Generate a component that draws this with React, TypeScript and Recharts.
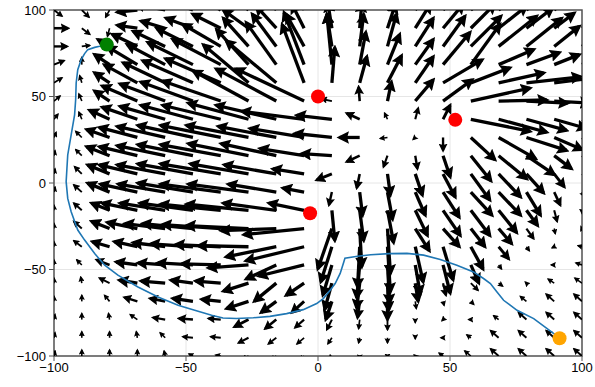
import React from 'react';
import { ComposedChart, Line, Scatter, XAxis, YAxis, CartesianGrid, ReferenceArea } from 'recharts';

// quiver grid (20 x 20 points, tails of the arrows)
const GRID_X = [-100, -89.47, -78.95, -68.42, -57.89, -47.37, -36.84, -26.32, -15.79, -5.26, 5.26, 15.79, 26.32, 36.84, 47.37, 57.89, 68.42, 78.95, 89.47, 100];
const GRID_Y = [100, 89.47, 78.95, 68.42, 57.89, 47.37, 36.84, 26.32, 15.79, 5.26, -5.26, -15.79, -26.32, -36.84, -47.37, -57.89, -68.42, -78.95, -89.47, -100];

// arrow x-components, one row per GRID_Y value
const ARROW_U = [
  [3, 2.7, -1.5, -7.6, -11.4, -12.1, -11.4, -9.5, -6.8, -3.8, -1.1, 1.1, 3, 5.3, 6.8, 7.6, 7.6, 6.8, 5.7, 5.3],
  [5.3, 3, -0.8, -7.6, -9.1, -10.2, -10.6, -9.5, -7.6, -4.6, -1.5, 0.8, 3, 5.7, 7.6, 9.1, 10.6, 9.9, 7.6, 6.1],
  [4.9, 3, -4.6, -9.5, -12.1, -13.7, -14.4, -9.5, -9.1, -6.8, -1.9, 1.5, 3.4, 6.8, 8.3, 11.4, 14.4, 13.3, 9.5, 6.8],
  [3.8, 0, -5.7, -11.4, -14.4, -17.1, -18.2, -12.1, -11.4, -7.6, -1.9, 2.3, 4.6, 6.8, 10.2, 11, 13.3, 12.5, 9.5, 7.6],
  [3, -0.8, -5.7, -12.5, -15.9, -19, -20.9, -17.1, -19, -8.3, 1.1, 2.7, 5.3, 6.8, 14.8, 14.8, 17.1, 20.5, 15.2, 11.4],
  [2.3, -1.1, -5.7, -13.3, -17.1, -19.7, -22, -20.9, -22.8, -25.8, -3.8, -0.4, 1.5, 6.8, 11, 22.4, 18.2, 15.6, 13.3, 11.4],
  [1.5, -1.1, -7.6, -13.3, -17.1, -19.7, -22, -22.8, -22.8, -23.5, -13.3, -4.9, -1.1, 1.1, 2.7, 22.4, 18.2, 15.2, 12.1, 11.4],
  [0.8, -2.3, -8.7, -14.4, -18.2, -20.9, -22.8, -23.5, -22, -20.5, -14, -7.6, -2.7, -0.8, 0, 9.1, 14, 15.2, 10.6, 7.6],
  [0.4, -2.3, -8.7, -14.4, -18.2, -20.9, -22.8, -22.8, -20.9, -16.7, -11.4, -4.9, -1.5, 0.8, 2.7, 7.6, 10.6, 10.6, 6.5, 3.8],
  [0.4, -2.7, -8.3, -14.4, -18.2, -20.9, -22.8, -22, -19.7, -11.8, -5.7, -1.1, 1.1, 2.7, 4.6, 7.2, 8.3, 6.5, 3.8, 1.9],
  [0.4, -3, -8.3, -14, -17.8, -20.9, -22.8, -22.8, -18.2, -8, -1.1, 1.1, 1.9, 3.8, 6.1, 8, 8.3, 5.3, 2.3, 0.8],
  [0, -3, -6.8, -13.3, -17.1, -20.1, -22.8, -23.5, -20.1, -13.3, 1.1, 1.5, 2.3, 4.6, 6.5, 7.2, 6.8, 4.2, 1.1, 0],
  [0, -3, -6.8, -11.4, -15.2, -19, -22, -23.5, -20.9, -22.8, -5.3, 0.8, 1.1, 5.3, 6.1, 5.3, 4.9, 2.7, 0.4, -0.4],
  [0, -3, -6.5, -8.7, -12.1, -15.9, -17.1, -19, -19, -22, -4.2, -0.8, 1.1, 3, 3.8, 4.6, 3.8, 1.1, -0.8, -1.5],
  [0, -1.9, -4.9, -8, -10.2, -13.3, -14.8, -15.2, -11.4, -17.1, -3.4, -1.1, 0.8, 1.9, 2.7, 3, 1.1, 0, -1.1, -2.3],
  [0, -0.4, -3.8, -6.8, -9.1, -8.3, -9.5, -9.5, -8.3, -6.8, -2.7, -1.1, 0.4, 1.1, 1.1, 2.7, 1.5, -0.4, -2.3, -2.7],
  [0, 0, -1.9, -4.9, -5.7, -7.6, -7.2, -8.3, -5.7, -4.6, -2.3, -0.8, 0, 0.4, 0.4, 1.1, 0, -2.3, -3, -3],
  [0.4, 0, -0.4, -2.7, -4.6, -5.3, -4.6, -5.3, -4.2, -3.4, -1.9, -0.4, 0, 0, -0.4, -0.8, -1.9, -3, -3, -3],
  [0.4, 0, 0, -0.4, -1.9, -3.8, -3.8, -3.8, -3, -2.7, -1.5, -0.4, 0, 0, -0.8, -1.5, -3, -3, -3, -3],
  [0.4, 0, 0, 0, -0.4, -1.5, -1.9, -2.3, -1.9, -1.5, -1.1, 0, 0, -0.4, -1.5, -2.3, -3, -3, -3, -3],
];

// arrow y-components, one row per GRID_Y value
const ARROW_V = [
  [-3.5, -4.1, -4.1, -1.2, 3.5, 7, 10.4, 12.8, 16.2, 17.4, 17.4, 16.2, 14.5, 12.8, 11.6, 10.4, 9.3, 8.1, 7, 4.6],
  [0, -3.5, -4.6, 1.7, 4.1, 5.8, 8.1, 10.4, 12.8, 13.9, 14.5, 14.5, 13.9, 13.9, 13.9, 13.9, 12.8, 11.6, 8.7, 5.8],
  [0, 0.6, 4.1, 7, 8.7, 10.4, 12.8, 16.2, 18.6, 18.6, 18.6, 18.6, 18.6, 16.2, 17.4, 17.4, 17.4, 16.2, 11.6, 7],
  [2.3, 4.1, 5.8, 10.4, 11.6, 12.8, 14.5, 20.3, 24.3, 30.1, 29, 18.6, 17.4, 14.5, 18.6, 23.2, 8.7, 7, 5.8, 4.6],
  [2.9, 4.1, 5.8, 10.4, 11.6, 12.8, 13.9, 22, 24.3, 33.6, 20.3, 15.1, 15.7, 15.1, 13.3, 8.7, 5.8, 3.5, 2.9, 2.3],
  [2.9, 4.1, 5.8, 8.7, 9.9, 11, 11.6, 17.4, 18.6, 18.6, 1.2, 8.1, 11, 12.2, 12.2, 7.5, 0.6, -1.2, -1.2, -1.2],
  [2.9, 4.1, 5.2, 7, 7.5, 8.1, 8.1, 9.3, 8.1, 4.6, 2.3, 3.5, 3.5, 6.4, 8.1, -7, -7.5, -6.4, -5.2, -4.6],
  [2.9, 3.5, 4.6, 5.8, 6.4, 7, 7, 7, 6.4, 5.2, 2.3, 0, -0.6, -1.2, -7.5, -12.8, -12.2, -7.5, -7, -5.8],
  [2.9, 3.5, 5.2, 5.2, 5.8, 6.4, 6.4, 7, 7, 4.1, 1.2, -3.5, -6.4, -7.5, -12.2, -14.5, -13.3, -11, -7.5, -4.6],
  [2.9, 4.1, 5.2, 5.2, 5.2, 5.8, 5.8, 5.8, 5.2, 2.9, -3.5, -8.1, -12.2, -12.2, -13.3, -15.1, -13.3, -11, -7.5, -3.5],
  [2.9, 4.1, 5.2, 4.6, 4.6, 5.2, 4.6, 4.6, 4.6, 2.3, -7.5, -13.3, -15.7, -13.3, -14.5, -13.3, -13.3, -13.3, -7.5, -2.3],
  [2.9, 4.1, 4.1, 4.1, 4.1, 4.1, 3.5, 3.5, 4.1, 4.1, -17.4, -17.4, -18.6, -14.5, -14.5, -14.5, -12.8, -8.7, -6.4, -1.7],
  [2.9, 4.1, 4.1, 3.5, 2.9, 2.9, 2.3, 1.7, -1.2, -3.5, -23.2, -22, -26.1, -12.8, -10.4, -10.4, -8.7, -5.8, -2.9, -1.2],
  [2.9, 3.5, 2.9, 2.9, 2.3, 1.7, 1.2, 0.6, -5.8, -8.1, -20.3, -23.2, -26.1, -20.3, -19.1, -12.8, -7, -2.3, -0.6, 0.6],
  [2.9, 2.9, 2.9, 1.7, 1.2, 1.2, 0.6, -1.7, -8.1, -6.4, -17.4, -19.1, -22, -16.8, -16.2, -10.4, -2.3, 0, 0, 1.2],
  [2.9, 3.5, 2.9, 1.7, 1.2, 1.7, 1.2, -4.6, -10.4, -7, -15.1, -14.5, -15.7, -10.4, -7, -4.1, -1.7, 0.6, 2.3, 2.9],
  [2.9, 3.5, 3.5, 2.3, 1.7, 1.7, 1.2, -4.1, -6.4, -6.4, -10.4, -9.3, -10.4, -4.1, -2.3, -1.7, 0, 2.9, 4.1, 4.1],
  [2.9, 3.5, 3.5, 2.9, 1.2, 0.6, 0.6, -4.1, -5.2, -4.6, -5.8, -5.2, -5.8, -1.7, -0.6, 0, 2.3, 4.1, 4.1, 4.1],
  [2.9, 3.5, 3.5, 3.5, 2.9, 0.6, 0.6, -2.9, -3.5, -3.5, -3.5, -2.9, -2.9, -0.6, 0, 1.7, 4.1, 4.1, 4.1, 4.1],
  [2.9, 3.5, 3.5, 3.5, 2.9, 1.2, 0.6, -1.7, -2.3, -2.3, -1.7, -1.7, -1.2, 0.6, 1.7, 2.9, 4.1, 4.1, 4.1, 4.1],
];

// planned path, from start (orange) to goal (green)
const PATH_X = [91.6, 86.8, 81.7, 75.4, 70.3, 67.8, 65.3, 62.7, 58.9, 52.6, 46.3, 40, 33.7, 27, 20, 15, 10.2, 9.8, 8.4, 6.5, 4.6, 2, -0.5, -5.6, -11.9, -18.2, -24.5, -30.9, -36, -40.3, -46.7, -53, -60.6, -68.2, -75.8, -80.8, -84.6, -88.4, -91, -93.5, -94.8, -95.4, -95.1, -94.8, -93.5, -92.2, -91.8, -91.6, -91, -89.7, -88.4, -87.2, -84.6, -82.7, -80];
const PATH_Y = [-89.7, -84.2, -78.4, -73.6, -67.8, -63, -58.1, -55.2, -51.4, -47.5, -44.2, -41.7, -40.7, -40.8, -41.5, -42.3, -43.5, -45.5, -52.3, -58.1, -62, -66.8, -69.7, -73.2, -75.5, -77.1, -77.9, -78.3, -78, -76.5, -73.6, -70.7, -65.9, -60.1, -53.3, -47.5, -40.8, -33, -27.2, -16.6, -8.9, 0.8, 8.5, 16.2, 27.8, 39.4, 48.1, 57.8, 65.5, 71.3, 74.8, 77.1, 78.4, 79, 80];

const OBSTACLE_X = [0, 52, -3];
const OBSTACLE_Y = [50, 36.5, -17.5];
const START = [{ x: 91.5, y: -89.7 }];
const GOAL = [{ x: -80, y: 80 }];
const TICKS = [-100, -50, 0, 50, 100];

const W = 595;
const H = 387;
const MARGIN = { top: 10, right: 13, bottom: 0, left: 0 };
const Y_AXIS_W = 54;
const X_AXIS_H = 31;
const PX_X = (W - MARGIN.left - MARGIN.right - Y_AXIS_W) / 200;
const PX_Y = (H - MARGIN.top - MARGIN.bottom - X_AXIS_H) / 200;

const fmt = (v: number) => (v < 0 ? `\u2212${-v}` : `${v}`);

const arrows: { key: string; data: { x: number; y: number }[]; sw: number }[] = [];
GRID_Y.forEach((y, j) => {
  GRID_X.forEach((x, i) => {
    const u = ARROW_U[j][i];
    const v = ARROW_V[j][i];
    if (u === 0 && v === 0) return;
    const len = Math.hypot(u * PX_X, v * PX_Y);
    arrows.push({
      key: `a-${j}-${i}`,
      data: [{ x, y }, { x: x + u, y: y + v }],
      sw: Math.min(3.3, Math.max(1.6, len / 5.5)),
    });
  });
});

const pathData = PATH_X.map((x, i) => ({ x, y: PATH_Y[i] }));
const obstacles = OBSTACLE_X.map((x, i) => ({ x, y: OBSTACLE_Y[i] }));

const dot = (fill: string) => (props: any) => <circle cx={props.cx} cy={props.cy} r={7} fill={fill} />;

const tickStyle = { fill: '#000', fontSize: 13, fontFamily: 'Liberation Sans, Arial, sans-serif' };

export default function App() {
  return (
    <div style={{ position: 'absolute', left: 0, top: 0, background: '#fff' }}>
      <svg width={0} height={0} style={{ position: 'absolute' }}>
        <defs>
          <marker id="qhead" viewBox="0 0 10 10" refX="7.5" refY="5" markerWidth="3.8" markerHeight="3.8" orient="auto" markerUnits="strokeWidth">
            <path d="M0,0 L10,5 L0,10 L1.5,5 z" fill="#000" />
          </marker>
        </defs>
      </svg>
      <ComposedChart width={W} height={H} margin={MARGIN}>
        <CartesianGrid stroke="#e6e6e6" strokeWidth={1} />
        <XAxis
          type="number"
          dataKey="x"
          domain={[-100, 100]}
          allowDataOverflow
          ticks={TICKS}
          tickFormatter={fmt}
          height={X_AXIS_H}
          axisLine={false}
          tickLine={{ stroke: '#555' }}
          tickSize={5}
          tick={tickStyle}
        />
        <YAxis
          type="number"
          domain={[-100, 100]}
          allowDataOverflow
          ticks={TICKS}
          tickFormatter={fmt}
          width={Y_AXIS_W}
          axisLine={false}
          tickLine={{ stroke: '#555' }}
          tickSize={5}
          tickMargin={3}
          tick={tickStyle}
        />
        {arrows.map((a) => (
          <Line
            key={a.key}
            data={a.data}
            dataKey="y"
            type="linear"
            stroke="#000"
            strokeWidth={a.sw}
            dot={false}
            activeDot={false}
            legendType="none"
            markerEnd="url(#qhead)"
            isAnimationActive={false}
          />
        ))}
        <Line
          data={pathData}
          dataKey="y"
          type="linear"
          stroke="#1f77b4"
          strokeWidth={1.6}
          dot={false}
          activeDot={false}
          legendType="none"
          isAnimationActive={false}
        />
        <Scatter data={obstacles} dataKey="y" shape={dot('#ff0000')} isAnimationActive={false} />
        <Scatter data={GOAL} dataKey="y" shape={dot('#008000')} isAnimationActive={false} />
        <Scatter data={START} dataKey="y" shape={dot('#ffa500')} isAnimationActive={false} />
        <ReferenceArea x1={-100} x2={100} y1={-100} y2={100} fill="none" stroke="#555" strokeWidth={1.5} />
      </ComposedChart>
    </div>
  );
}
